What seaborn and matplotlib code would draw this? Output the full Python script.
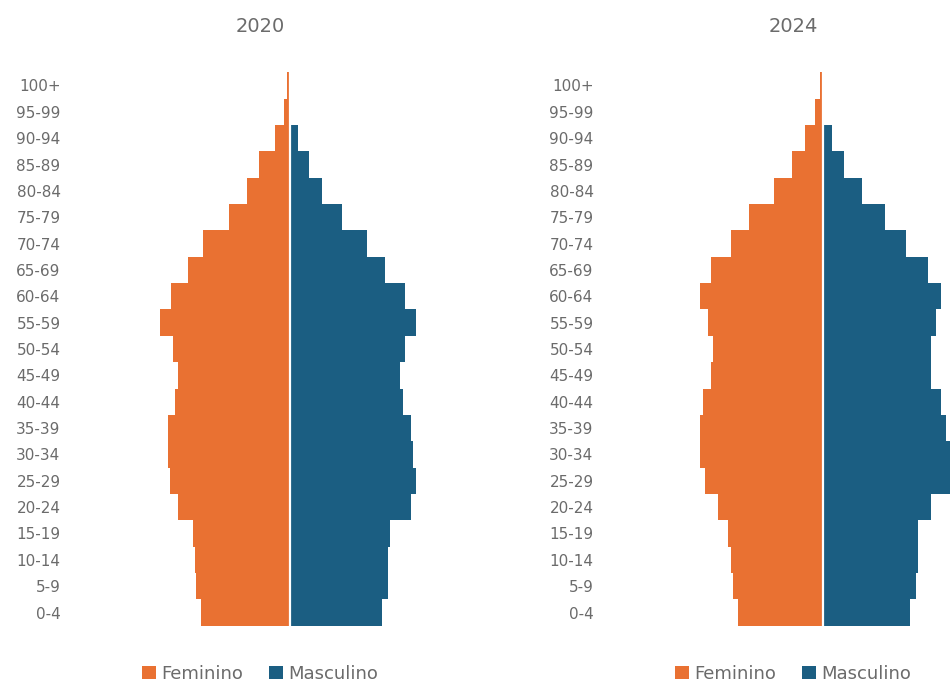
import pandas as pd
import matplotlib.pyplot as plt
import seaborn as sns

# ==========================================================
# DADOS (unidade relativa)
# ==========================================================
faixas = ["100+", "95-99", "90-94", "85-89", "80-84", "75-79", "70-74",
          "65-69", "60-64", "55-59", "50-54", "45-49", "40-44", "35-39",
          "30-34", "25-29", "20-24", "15-19", "10-14", "5-9", "0-4"]

fem_2020 = [3, 6, 15, 31, 43, 61, 87, 102, 119, 130, 117, 112, 115, 122,
            122, 120, 112, 97, 95, 94, 89]
masc_2020 = [0, 0, 8, 19, 32, 52, 77, 95, 115, 126, 115, 110, 113, 121,
             123, 126, 121, 100, 98, 98, 92]

fem_2024 = [3, 8, 18, 31, 49, 74, 92, 112, 123, 115, 110, 112, 120, 123,
            123, 118, 105, 95, 92, 90, 85]
masc_2024 = [0, 0, 9, 21, 39, 62, 83, 105, 118, 113, 108, 108, 118, 123,
             128, 128, 108, 95, 95, 93, 87]

anos = ["2020", "2024"]
series = {"2020": (fem_2020, masc_2020), "2024": (fem_2024, masc_2024)}

COR_FEM = "#E97132"
COR_MASC = "#1B5E82"
COR_TEXTO = "#6B6B6B"

# ==========================================================
# FIGURA
# ==========================================================
sns.set_theme(style="white")
plt.rcParams["font.family"] = ["DejaVu Sans"]

fig = plt.figure(figsize=(9.5, 6.84), dpi=100)

W, H = 950, 684
pos_esq = [67.5, 600.5]      # borda esquerda de cada eixo (px)
larg = 385                   # largura de cada eixo (px)
topo, base = 72.3, 625.7     # limites verticais das barras (px)

for i, ano in enumerate(anos):
    fem, masc = series[ano]
    df = pd.DataFrame({
        "faixa": faixas * 2,
        "valor": [-v for v in fem] + list(masc),
        "sexo": ["Feminino"] * len(faixas) + ["Masculino"] * len(faixas),
    })

    ax = fig.add_axes([pos_esq[i] / W, 1 - base / H, larg / W, (base - topo) / H])
    sns.barplot(data=df, y="faixa", x="valor", hue="sexo", order=faixas,
                hue_order=["Feminino", "Masculino"],
                palette=[COR_FEM, COR_MASC], saturation=1, dodge=False,
                width=1.0, linewidth=0, orient="h", ax=ax)

    # linha branca separando os dois lados
    ax.axvline(0, color="white", lw=1.6)

    ax.set_xlim(-222.5, 162.5)
    ax.set_ylim(len(faixas) - 0.5, -0.5)
    ax.set_xlabel("")
    ax.set_ylabel("")
    ax.set_xticks([])
    ax.tick_params(axis="y", length=0, pad=5, labelsize=11, labelcolor=COR_TEXTO)
    for s in ax.spines.values():
        s.set_visible(False)

    ax.set_title(ano, fontsize=14, color=COR_TEXTO, pad=29)

    handles, labels = ax.get_legend_handles_labels()
    ax.legend(handles, labels, loc="center", bbox_to_anchor=(0.5, -0.087),
              ncol=2, frameon=False, fontsize=13, labelcolor=COR_TEXTO,
              handlelength=0.8, handleheight=0.8, handletextpad=0.3,
              columnspacing=1.4)

fig.savefig("out.png", dpi=100)
plt.close(fig)
